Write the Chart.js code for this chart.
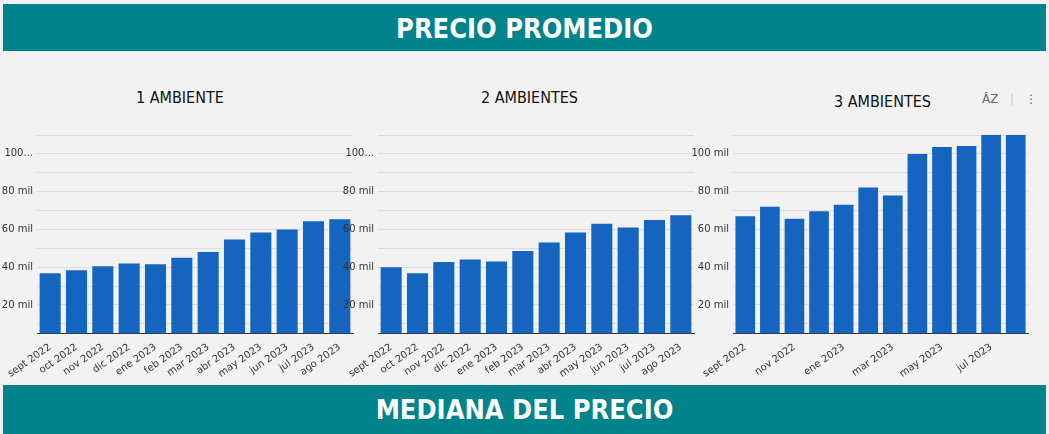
<!DOCTYPE html>
<html>
<head>
<meta charset="utf-8">
<script src="https://cdn.jsdelivr.net/npm/chart.js@4"></script>
<style>
  body { margin: 0; width: 1049px; height: 434px; background: #f2f2f2; overflow: hidden; font-family: "DejaVu Sans", sans-serif; position: relative; }
  .banner { position: absolute; left: 3px; width: 1043px; background: #00838a; color: #fff; font-weight: bold; font-size: 27px; text-align: center; font-family: "DejaVu Sans Condensed", "DejaVu Sans", sans-serif; }
  .title { position: absolute; font-size: 16px; color: #111; font-family: "DejaVu Sans Condensed", "DejaVu Sans", sans-serif; }
  .box { position: absolute; top: 110px; height: 270px; }
  .icons { position: absolute; left: 982px; top: 92px; color: #666; font-size: 12px; }
</style>
</head>
<body>
<div class="banner" style="top:4px;height:47px;line-height:50px;">PRECIO PROMEDIO</div>
<div class="banner" style="top:385px;height:49px;line-height:50px;">MEDIANA DEL PRECIO</div>
<div class="title" style="left:136px;top:88px;">1 AMBIENTE</div>
<div class="title" style="left:481px;top:88px;">2 AMBIENTES</div>
<div class="title" style="left:834px;top:92px;">3 AMBIENTES</div>
<div class="icons">A͏̂Z &nbsp; <span style="color:#ccc">|</span> &nbsp; ⋮</div>
<div class="box" style="left:0;width:357px;"><canvas id="c1"></canvas></div>
<div class="box" style="left:341px;width:357px;"><canvas id="c2"></canvas></div>
<div class="box" style="left:682px;width:350px;"><canvas id="c3"></canvas></div>
<script>
// data
const months = ["sept 2022", "oct 2022", "nov 2022", "dic 2022", "ene 2023", "feb 2023",
                "mar 2023", "abr 2023", "may 2023", "jun 2023", "jul 2023", "ago 2023"];
const ambiente1 = [36800, 38400, 40500, 42000, 41600, 45000, 48000, 54600, 58400, 60000, 64300, 65400];
const ambientes2 = [40000, 36800, 42700, 44000, 43000, 48600, 53000, 58400, 63000, 61000, 65000, 67500];
const ambientes3 = [67000, 72000, 65600, 69600, 73000, 82200, 78000, 100000, 103700, 104200, 110000, 110000];
const tickValues = [10000, 20000, 30000, 40000, 50000, 60000, 70000, 80000, 90000, 100000, 110000];

function makeChart(id, values, axisWidth, truncate) {
    new Chart(document.getElementById(id), {
        type: "bar",
        data: {
            labels: months,
            datasets: [{
                data: values,
                backgroundColor: "#1565c0",
                barPercentage: 0.8,
                categoryPercentage: 1
            }]
        },
        options: {
            responsive: true,
            maintainAspectRatio: false,
            animation: false,
            layout: { padding: { top: 25, right: 4 } },
            plugins: { legend: { display: false }, tooltip: { enabled: false } },
            scales: {
                x: {
                    grid: { display: false },
                    border: { color: "#333" },
                    ticks: { minRotation: 35, maxRotation: 35, color: "#333", font: { size: 10, family: "DejaVu Sans" }, padding: 0 }
                },
                y: {
                    min: 5000,
                    max: 110000,
                    afterBuildTicks: axis => { axis.ticks = tickValues.map(v => ({ value: v })); },
                    afterFit: axis => { axis.width = axisWidth; },
                    grid: { color: "#dcdcdc", drawTicks: false },
                    border: { display: false },
                    ticks: {
                        color: "#333",
                        padding: 4,
                        font: { size: 10, family: "DejaVu Sans" },
                        callback: v => {
                            if (v % 20000 !== 0) return "";
                            if (v === 100000 && truncate) return "100...";
                            return (v / 1000) + " mil";
                        }
                    }
                }
            }
        }
    });
}

makeChart("c1", ambiente1, 37, true);
makeChart("c2", ambientes2, 37, true);
makeChart("c3", ambientes3, 51, false);
</script>
</body>
</html>
